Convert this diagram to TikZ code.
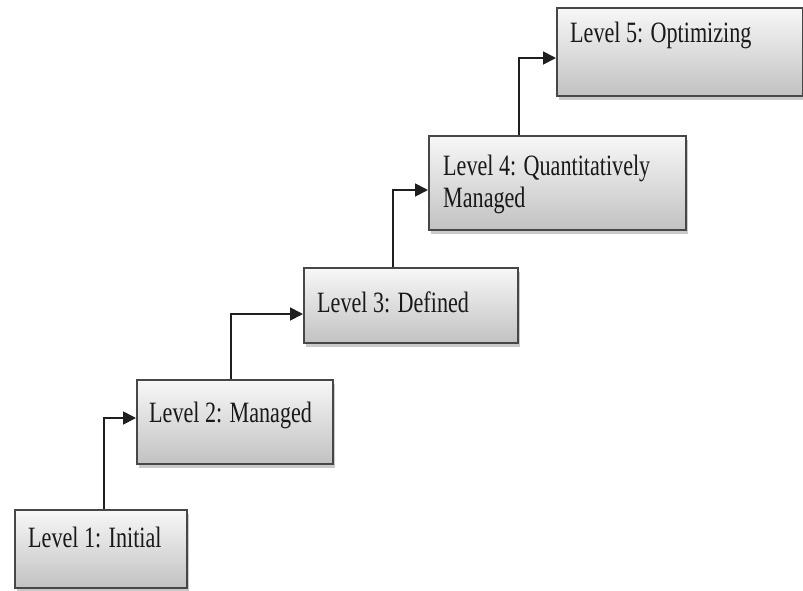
\documentclass[tikz,border=0pt]{standalone}
\usepackage{fontspec}
\setmainfont{Liberation Serif}[FakeStretch=0.75]
\usetikzlibrary{arrows.meta,shadows,calc}
\begin{document}
\begin{tikzpicture}[x=1pt,y=-1pt,
  levelbox/.style={rectangle, draw=black!72, line width=1.7pt,
    top color=black!3, bottom color=black!24, inner sep=0pt,
    anchor=north west,
    drop shadow={shadow xshift=2pt, shadow yshift=-4pt, opacity=0.35, fill=black!60}},
  leveltext/.style={anchor=base west, inner sep=0pt, text=black!90,
    font=\fontsize{29.5}{32}\selectfont},
  link/.style={draw=black!88, line width=1.8pt,
    -{Triangle[length=13pt,width=13pt]}}]
\useasboundingbox (0,0) rectangle (803,590);

% the five maturity levels
\node[levelbox, minimum width=172pt, minimum height=78pt] (l1) at (14,509) {};
\node[levelbox, minimum width=196pt, minimum height=84pt] (l2) at (136,379) {};
\node[levelbox, minimum width=214pt, minimum height=75pt] (l3) at (303,267) {};
\node[levelbox, minimum width=257pt, minimum height=94pt] (l4) at (428,135) {};
\node[levelbox, minimum width=246pt, minimum height=88pt] (l5) at (556,7) {};

% labels
\node[leveltext] (t1) at (28,547) {Level 1: Initial};
\node[leveltext] (t2) at (149,422) {Level 2: Managed};
\node[leveltext] (t3) at (317,312) {Level 3: Defined};
\node[leveltext] (t4) at (443,175) {\begin{tabular}[t]{@{}l@{}}Level 4: Quantitatively\\Managed\end{tabular}};
\node[leveltext] (t5) at (570,42) {Level 5: Optimizing};

% step connectors
\draw[link] ($(l1.north west)+(90,0)$) |- ($(l2.north west)+(0,39)$);
\draw[link] ($(l2.north west)+(95,0)$) |- ($(l3.north west)+(0,47)$);
\draw[link] ($(l3.north west)+(90,0)$) |- ($(l4.north west)+(0,55)$);
\draw[link] ($(l4.north west)+(91,0)$) |- ($(l5.north west)+(0,51)$);
\end{tikzpicture}
\end{document}
